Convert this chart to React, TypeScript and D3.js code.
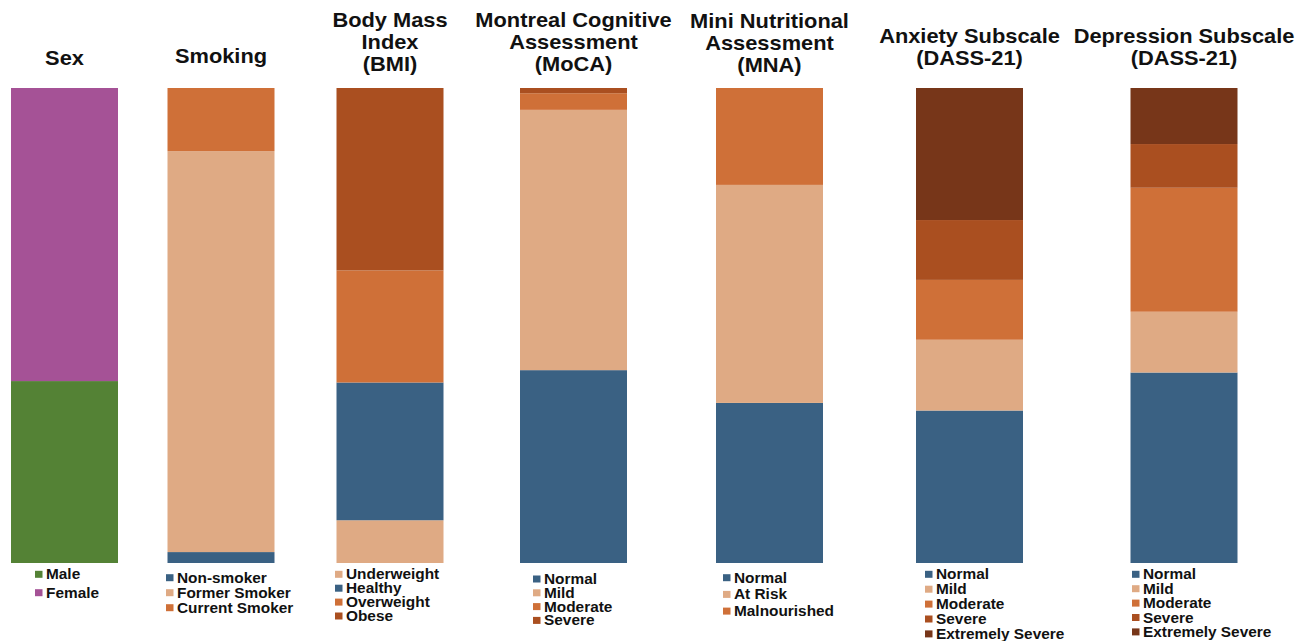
import React from "react";
import * as d3 from "d3";

// ---- Data (percent of participants) ----
const columns = ["Sex", "Smoking", "BMI", "MoCA", "MNA", "Anxiety", "Depression"];

const titles: string[][] = [
  ["Sex"],
  ["Smoking"],
  ["Body Mass", "Index", "(BMI)"],
  ["Montreal Cognitive", "Assessment", "(MoCA)"],
  ["Mini Nutritional", "Assessment", "(MNA)"],
  ["Anxiety Subscale", "(DASS-21)"],
  ["Depression Subscale", "(DASS-21)"],
];

const sexLabels = ["Male", "Female"];
const sexValues = [38.3, 61.7];

const smokingLabels = ["Non-smoker", "Former Smoker", "Current Smoker"];
const smokingValues = [2.3, 84.4, 13.3];

const bmiLabels = ["Underweight", "Healthy", "Overweight", "Obese"];
const bmiValues = [9.0, 29.0, 23.6, 38.4];

const mocaLabels = ["Normal", "Mild", "Moderate", "Severe"];
const mocaValues = [40.6, 54.8, 3.5, 1.1];

const mnaLabels = ["Normal", "At Risk", "Malnourished"];
const mnaValues = [33.7, 45.9, 20.4];

const anxietyLabels = ["Normal", "Mild", "Moderate", "Severe", "Extremely Severe"];
const anxietyValues = [32.1, 14.9, 12.6, 12.6, 27.8];

const depressionLabels = ["Normal", "Mild", "Moderate", "Severe", "Extremely Severe"];
const depressionValues = [40.1, 12.8, 26.1, 9.2, 11.8];

// ---- Colours ----
const GREEN = "#548235";
const PURPLE = "#A55296";
const BLUE = "#3A6183";
const PEACH = "#DFAA84";
const ORANGE = "#CF7038";
const RUST = "#AA4F20";
const BROWN = "#773619";

const sexColors = [GREEN, PURPLE];
const smokingColors = [BLUE, PEACH, ORANGE];
const bmiColors = [PEACH, BLUE, ORANGE, RUST];
const mocaColors = [BLUE, PEACH, ORANGE, RUST];
const mnaColors = [BLUE, PEACH, ORANGE];
const anxietyColors = [BLUE, PEACH, ORANGE, RUST, BROWN];
const depressionColors = [BLUE, PEACH, ORANGE, RUST, BROWN];

const allLabels = [sexLabels, smokingLabels, bmiLabels, mocaLabels, mnaLabels, anxietyLabels, depressionLabels];
const allValues = [sexValues, smokingValues, bmiValues, mocaValues, mnaValues, anxietyValues, depressionValues];
const allColors = [sexColors, smokingColors, bmiColors, mocaColors, mnaColors, anxietyColors, depressionColors];

// ---- Layout ----
const W = 1304;
const H = 641;
const BAR_W = 107;
const columnCenters = [64.5, 221, 390, 573.5, 769.5, 969.5, 1184];
const titleLastBaseline = [65, 63, 71, 71, 72, 65, 65];
const TITLE_LH = 22;
const legendMarkerX = [35, 166, 335, 533, 723, 925, 1132];
const legendFirstBaseline = [579.3, 582.7, 579.3, 584, 582.7, 579.3, 579.3];
const legendStep = [18.4, 15, 13.9, 13.8, 16.7, 14.9, 14.4];

const FONT = "'Liberation Sans', Arial, Helvetica, sans-serif";

export default function App() {
  const x = d3.scaleOrdinal<string, number>().domain(columns).range(columnCenters);
  const y = d3.scaleLinear().domain([0, 100]).range([563, 88]);

  return (
    <svg
      width={W}
      height={H}
      style={{ position: "absolute", left: 0, top: 0, background: "#fff" }}
      fontFamily={FONT}
    >
      {columns.map((col, ci) => {
        const cx = x(col);
        const vals = allValues[ci];
        const cols = allColors[ci];
        const labels = allLabels[ci];
        const stack = d3.cumsum(vals);
        const lines = titles[ci];
        const firstBaseline = titleLastBaseline[ci] - TITLE_LH * (lines.length - 1);
        return (
          <g key={col}>
            {vals.map((v, i) => {
              const y1 = y(stack[i]);
              const y0 = y(stack[i] - v);
              return (
                <rect
                  key={i}
                  x={cx - BAR_W / 2}
                  y={y1}
                  width={BAR_W}
                  height={y0 - y1}
                  fill={cols[i]}
                />
              );
            })}
            {lines.map((t, li) => (
              <text
                key={li}
                transform={`translate(${cx},${firstBaseline + li * TITLE_LH}) scale(1.12,1)`}
                textAnchor="middle"
                fontSize={19.5}
                fontWeight="bold"
                fill="#111"
              >
                {t}
              </text>
            ))}
            {labels.map((lab, li) => {
              const by = legendFirstBaseline[ci] + li * legendStep[ci];
              return (
                <g key={lab}>
                  <rect x={legendMarkerX[ci]} y={by - 8.5} width={7.5} height={7} fill={cols[li]} />
                  <text
                    transform={`translate(${legendMarkerX[ci] + 11},${by}) scale(1.1,1)`}
                    fontSize={14}
                    fontWeight="bold"
                    fill="#111"
                  >
                    {lab}
                  </text>
                </g>
              );
            })}
          </g>
        );
      })}
    </svg>
  );
}
